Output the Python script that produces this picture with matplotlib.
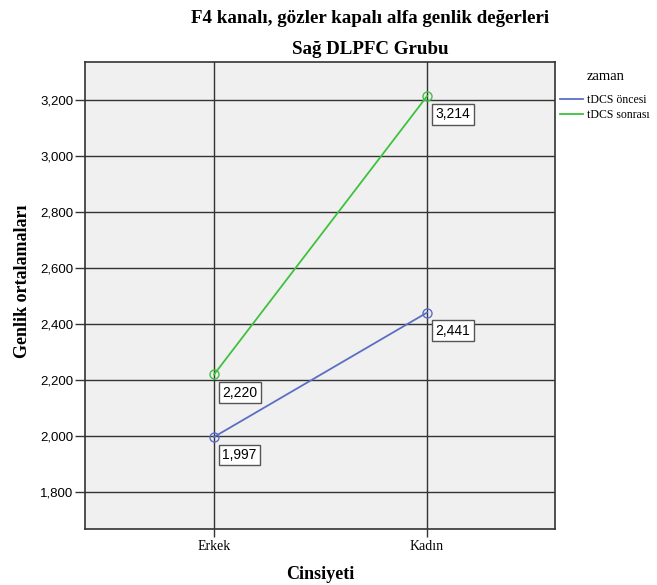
import matplotlib
matplotlib.use("Agg")
from matplotlib import pyplot as plt

# data
groups = ["Erkek", "Kadın"]
series_names = ["tDCS öncesi", "tDCS sonrası"]
tdcs_oncesi = [1997, 2441]
tdcs_sonrasi = [2220, 3214]
colors = ["#5a6fc4", "#3ec23e"]
yticks = [1800, 2000, 2200, 2400, 2600, 2800, 3000, 3200]

serif = "Liberation Serif"
sans = "Liberation Sans"

fig = plt.figure(figsize=(6.57, 5.85), dpi=100)
ax = fig.add_axes([0.1294, 0.0957, 0.7154, 0.7983])
ax.set_facecolor("#f0f0f0")

x = list(range(len(groups)))
for vals, name, c in zip([tdcs_oncesi, tdcs_sonrasi], series_names, colors):
  ax.plot(x, vals, color=c, lw=1.3, marker="o", ms=6.5, mfc="none", mec=c,
          label=name, zorder=3)
  for xi, v in zip(x, vals):
    ax.annotate(f"{v:,}", (xi, v), xytext=(6, -8), textcoords="offset points",
                ha="left", va="top", fontsize=10, family=sans, zorder=4,
                bbox=dict(boxstyle="square,pad=0.25", fc="white", ec="#555555", lw=1))

ax.set_xlim(-0.606, 1.601)
ax.set_ylim(1668, 3336)
ax.set_xticks(x)
ax.set_xticklabels(groups, family=serif, fontsize=10)
ax.set_yticks(yticks)
ax.set_yticklabels([f"{t:,}" for t in yticks], family=sans, fontsize=9.5)
ax.grid(True, color="#333333", lw=1.0, zorder=1)
ax.set_axisbelow(True)
ax.tick_params(axis="x", length=6, width=1, color="#333333", pad=2)
ax.tick_params(axis="y", length=7, width=1, color="#333333", pad=1.5)
for s in ax.spines.values():
  s.set_color("#333333")
  s.set_linewidth(1.2)

ax.set_xlabel("Cinsiyeti", family=serif, fontweight="bold", fontsize=13, labelpad=9)
ax.set_ylabel("Genlik ortalamaları", family=serif, fontweight="bold", fontsize=13,
              va="center")
ax.yaxis.set_label_coords(-0.132, 0.53)

fig.text(0.563, 0.969, "F4 kanalı, gözler kapalı alfa genlik değerleri",
         ha="center", va="center", family=serif, fontweight="bold", fontsize=13.7)
fig.text(0.563, 0.915, "Sağ DLPFC Grubu",
         ha="center", va="center", family=serif, fontweight="bold", fontsize=13.7)

# legend: title as separate text, entries below
fig.text(587 / 657, 1 - 76 / 585, "zaman", ha="left", va="center",
         family=serif, fontsize=10.5)
leg = ax.legend(loc="upper left", bbox_to_anchor=(560 / 657, 1 - 94 / 585),
                bbox_transform=fig.transFigure, frameon=False,
                prop={"family": serif, "size": 8.5},
                handlelength=1.95, handletextpad=0.35, labelspacing=0.25,
                borderaxespad=0.0, borderpad=0.0)
for h in leg.legend_handles:
  h.set_marker("")

fig.savefig("out.png", dpi=100)
